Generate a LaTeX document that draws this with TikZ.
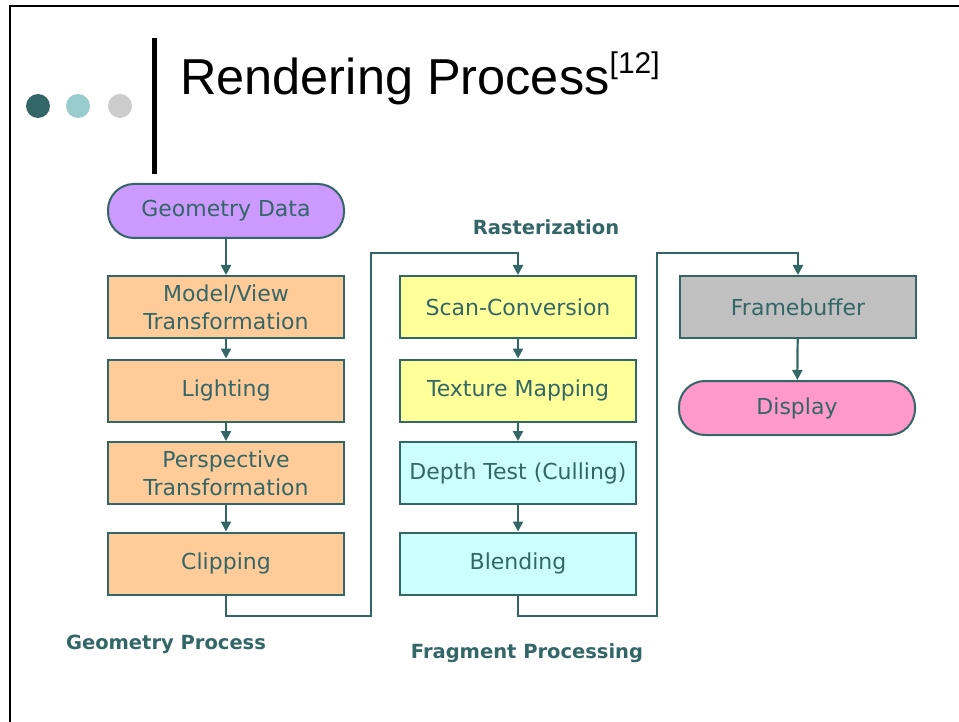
\documentclass[tikz,border=0pt]{standalone}
\usepackage{fontspec}
\setmainfont{DejaVu Sans}
\newfontfamily\titlefont{Liberation Sans}
\usetikzlibrary{arrows.meta}
\definecolor{ink}{HTML}{336666}
\definecolor{dotdark}{HTML}{336666}
\definecolor{dotlight}{HTML}{99CCCC}
\definecolor{dotgray}{HTML}{CCCCCC}
\definecolor{lavender}{HTML}{CC99FF}
\definecolor{peach}{HTML}{FFCC99}
\definecolor{lemon}{HTML}{FFFF99}
\definecolor{ice}{HTML}{CCFFFF}
\definecolor{silverbox}{HTML}{C0C0C0}
\definecolor{rose}{HTML}{FF99CC}
\begin{document}
\begin{tikzpicture}[x=1pt,y=-1pt,
  stage/.style={draw=ink, line width=2pt, minimum width=236pt, minimum height=62pt,
    inner sep=0pt, text=ink, align=center, font=\fontsize{22}{28}\selectfont},
  pill/.style={stage, rounded corners=26pt, minimum height=54pt},
  flow/.style={draw=ink, line width=2.2pt, -{Triangle[length=10pt,width=10pt]}},
  caption/.style={text=ink, inner sep=0pt, font=\bfseries\fontsize{19.5}{24}\selectfont}]
\useasboundingbox (0,0) rectangle (959,722);
\fill[white] (0,0) rectangle (959,722);

% slide frame
\draw[line width=2pt] (10,724) -- (10,6) -- (961,6);

% header decoration
\fill[dotdark] (38,106) circle (12pt);
\fill[dotlight] (78,106) circle (12pt);
\fill[dotgray] (120,106) circle (12pt);
\fill[black] (152,38) rectangle (157,174);
\node[anchor=base west, inner sep=0pt, font=\titlefont\fontsize{50.5}{60}\selectfont] (title) at (180,95)
  {Rendering Process\raisebox{21pt}{\fontsize{30}{30}\selectfont[12]}};

% geometry stage
\node[pill, fill=lavender] (geo) at (226,211) {Geometry Data};
\node[stage, fill=peach] (mv) at (226,307) {Model/View\\Transformation};
\node[stage, fill=peach] (light) at (226,390.5) {Lighting};
\node[stage, fill=peach] (persp) at (226,473) {Perspective\\Transformation};
\node[stage, fill=peach] (clip) at (226,563.5) {Clipping};

% rasterization / fragment stage
\node[stage, fill=lemon] (scan) at (518,307) {Scan-Conversion};
\node[stage, fill=lemon] (tex) at (518,390.5) {Texture Mapping};
\node[stage, fill=ice] (depth) at (518,473) {Depth Test (Culling)};
\node[stage, fill=ice] (blend) at (518,563.5) {Blending};

% output stage
\node[stage, fill=silverbox] (fb) at (798,307) {Framebuffer};
\node[pill, fill=rose] (disp) at (797,408) {Display};

% captions
\node[caption] (rast) at (546,227) {Rasterization};
\node[caption] (geoproc) at (166,644) {Geometry Process};
\node[caption] (fragproc) at (527,653) {Fragment Processing};

% vertical flow within columns
\draw[flow] (geo) -- (mv);
\draw[flow] (mv) -- (light);
\draw[flow] (light) -- (persp);
\draw[flow] (persp) -- (clip);
\draw[flow] (scan) -- (tex);
\draw[flow] (tex) -- (depth);
\draw[flow] (depth) -- (blend);
\draw[flow] (fb) -- (disp);

% links between columns
\coordinate (la) at (371,616);
\coordinate (lb) at (371,253);
\coordinate (ra) at (657,616);
\coordinate (rb) at (657,253);
\draw[flow] (clip.south) |- (la) -- (lb) -| (scan.north);
\draw[flow] (blend.south) |- (ra) -- (rb) -| (fb.north);
\end{tikzpicture}
\end{document}
